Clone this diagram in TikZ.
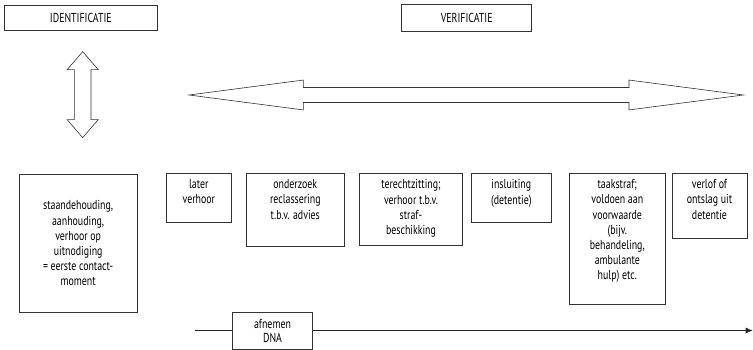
\documentclass[tikz,border=0pt]{standalone}
\usepackage{fontspec}
\setmainfont{PT Sans}[FakeStretch=0.76]
\usetikzlibrary{arrows.meta,positioning,shapes.arrows}
\tikzset{
  phase/.style={rectangle, draw=black!80, align=center, font=\fontsize{13}{15.2}\selectfont, inner sep=0pt},
  stagebox/.style={rectangle, draw=black!80, anchor=north west, inner sep=0pt},
  stagetext/.style={align=center, font=\fontsize{13}{15.2}\selectfont, inner sep=0pt},
  bigarrow/.style={double arrow, draw=black!80, fill=white, inner xsep=0pt},
  arr/.style={-{Latex[length=7pt,width=6pt]}, draw=black!85}
}

\begin{document}
\begin{tikzpicture}[x=1pt, y=-1pt, line width=0.6pt]
\useasboundingbox (0,0) rectangle (753,350);
% phases
\node[phase, minimum width=153pt, minimum height=25.7pt] (ident) at (80.8,17.9) {IDENTIFICATIE};
\node[phase, minimum width=130pt, minimum height=27.4pt] (verif) at (466.7,18) {VERIFICATIE};
\node[bigarrow, rotate=90, inner ysep=8pt, minimum height=86pt, minimum width=30.4pt,
      double arrow head extend=7.2pt, double arrow tip angle=81.6] (identarrow) at (82.7,94.65) {};
\node[bigarrow, inner ysep=7.2pt, minimum height=554.3pt, minimum width=29.3pt,
      double arrow head extend=7.45pt, double arrow tip angle=14.9] (verifarrow) at (466.2,95) {};

% stages
\node[stagebox, minimum width=117.7pt, minimum height=137.4pt] (contact) at (19,174.3) {};
\node[stagetext] at (contact.center) {staandehouding,\\aanhouding,\\verhoor op\\uitnodiging\\= eerste contact-\\moment};
\node[stagebox, minimum width=65.6pt, minimum height=48.7pt] (verhoor) at (165.7,173.3) {};
\node[stagetext, below=6pt] at (verhoor.north) {later\\verhoor};
\node[stagebox, minimum width=98pt, minimum height=72.7pt] (reclass) at (246,173.3) {};
\node[stagetext, below=6pt] at (reclass.north) {onderzoek\\reclassering\\t.b.v. advies};
\node[stagebox, minimum width=103.3pt, minimum height=71.7pt] (zitting) at (359,173.3) {};
\node[stagetext, below=6pt] at (zitting.north) {terechtzitting;\\verhoor t.b.v.\\straf-\\beschikking};
\node[stagebox, minimum width=80pt, minimum height=48.4pt] (insluiting) at (471,173.3) {};
\node[stagetext, below=6pt] at (insluiting.north) {insluiting\\(detentie)};
\node[stagebox, minimum width=96pt, minimum height=130.7pt] (taakstraf) at (569,173.3) {};
\node[stagetext, below=6pt] at (taakstraf.north) {taakstraf;\\voldoen aan\\voorwaarde\\(bijv.\\behandeling,\\ambulante\\hulp) etc.};
\node[stagebox, minimum width=75pt, minimum height=65pt] (verlof) at (671.7,173.3) {};
\node[stagetext, below=6pt] at (verlof.north) {verlof of\\ontslag uit\\detentie};

% DNA
\node[phase, font=\fontsize{13}{14}\selectfont, minimum width=80.4pt, minimum height=36.6pt] (dna) at (272.5,330.5) {afnemen\\DNA};
\coordinate (dnastart) at (195,330.5);
\coordinate (dnaend) at (752.7,330.5);
\draw[draw=black!85] (dnastart) -- (dna);
\draw[arr] (dna) -- (dnaend);
\end{tikzpicture}
\end{document}
